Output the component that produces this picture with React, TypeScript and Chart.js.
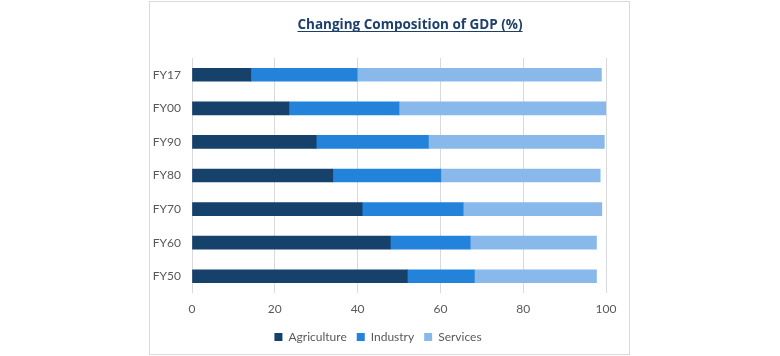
import React, { useEffect, useRef } from "react";
import { Chart, registerables } from "chart.js";

Chart.register(...registerables);

const categories = ["FY50", "FY60", "FY70", "FY80", "FY90", "FY00", "FY17"];
const agriculture = [52.0, 47.9, 41.1, 34.0, 30.0, 23.4, 14.2];
const industry = [16.2, 19.3, 24.4, 26.1, 27.1, 26.6, 25.7];
const services = [29.5, 30.5, 33.5, 38.5, 42.5, 50.0, 59.0];
const xTicks = [0, 20, 40, 60, 80, 100];
const titleText = "Changing Composition of GDP (%)";

const FONT = "Lato, 'Open Sans', sans-serif";
const TITLE_FONT = "'Open Sans', sans-serif";
const GREY = "#595959";

const titlePlugin = {
  id: "underlinedTitle",
  afterDraw(chart: any) {
    const { ctx, chartArea } = chart;
    ctx.save();
    ctx.font = `bold 13.5px ${TITLE_FONT}`;
    ctx.fillStyle = "#1F3F6B";
    ctx.textAlign = "center";
    ctx.textBaseline = "alphabetic";
    const cx = (chartArea.left + chartArea.right) / 2 + 11;
    const by = 27;
    ctx.fillText(titleText, cx, by);
    const w = ctx.measureText(titleText).width;
    ctx.strokeStyle = "#1F3F6B";
    ctx.lineWidth = 1.2;
    ctx.beginPath();
    ctx.moveTo(cx - w / 2, by + 2.5);
    ctx.lineTo(cx + w / 2, by + 2.5);
    ctx.stroke();
    ctx.restore();
  },
};

export default function App() {
  const ref = useRef<HTMLCanvasElement>(null);
  useEffect(() => {
    if (!ref.current) return;
    const chart = new Chart(ref.current, {
      type: "bar",
      data: {
        labels: categories,
        datasets: [
          { label: "Agriculture", data: agriculture, backgroundColor: "#15416B" },
          { label: "Industry", data: industry, backgroundColor: "#2383DB" },
          { label: "Services", data: services, backgroundColor: "#88B9EA" },
        ],
      },
      options: {
        indexAxis: "y",
        responsive: false,
        animation: false,
        layout: { padding: { top: 56, right: 23, left: 0, bottom: 1 } },
        datasets: { bar: { barThickness: 13 } },
        scales: {
          x: {
            stacked: true,
            min: 0,
            max: 100,
            afterBuildTicks: (s: any) => {
              s.ticks = xTicks.map((v) => ({ value: v }));
            },
            afterFit: (s: any) => {
              s.height = 28;
            },
            grid: { color: "#D9D9D9", lineWidth: 1, drawTicks: false },
            border: { display: false },
            ticks: { color: GREY, font: { family: FONT, size: 12 }, padding: 9 },
          },
          y: {
            stacked: true,
            reverse: true,
            afterFit: (s: any) => {
              s.width = 42;
            },
            grid: { display: false, drawTicks: false },
            border: { display: false },
            ticks: { color: GREY, font: { family: FONT, size: 12 }, padding: 11 },
          },
        },
        plugins: {
          legend: {
            position: "bottom",
            labels: {
              color: GREY,
              font: { family: FONT, size: 12 },
              boxWidth: 8,
              boxHeight: 8,
              padding: 10,
            },
          },
          tooltip: { enabled: false },
        },
      },
      plugins: [titlePlugin],
    });
    return () => chart.destroy();
  }, []);

  return (
    <div style={{ position: "fixed", left: 0, top: 0, width: 780, height: 356 }}>
      <div
        style={{
          position: "absolute",
          left: 149,
          top: 1,
          width: 481,
          height: 354,
          boxSizing: "border-box",
          border: "1px solid #D9D9D9",
          background: "#fff",
        }}
      >
        <canvas ref={ref} width={479} height={352} style={{ display: "block" }} />
      </div>
    </div>
  );
}
